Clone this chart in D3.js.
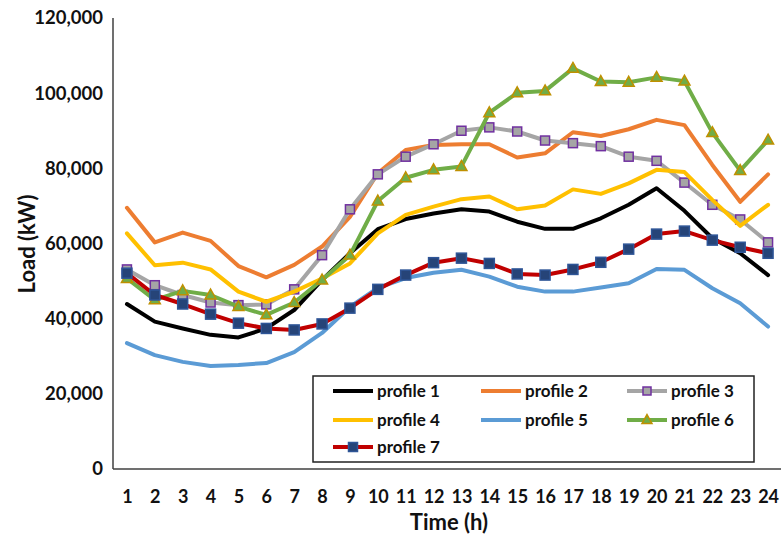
<!DOCTYPE html>
<html>
<head>
<meta charset="utf-8">
<script src="https://cdn.jsdelivr.net/npm/d3@7"></script>
<style>
  html, body { margin: 0; padding: 0; background: #fff; }
  svg { display: block; }
  text { font-family: Lato, "Open Sans", "Liberation Sans", sans-serif; font-weight: bold; fill: #111; }
</style>
</head>
<body>
<svg id="chart" width="781" height="537"></svg>
<script>
// Hourly load for seven profiles (kW)
const hours = d3.range(1, 25);
const profile1 = [43900, 39200, 37400, 35700, 35000, 37400, 42300, 50300, 57400, 63800, 66500, 68000,
                  69100, 68500, 65800, 63900, 63900, 66700, 70300, 74700, 68700, 61400, 57400, 51600];
const profile2 = [69500, 60300, 62900, 60700, 54000, 51000, 54300, 59200, 67100, 78700, 84900, 86200,
                  86400, 86400, 82900, 84000, 89600, 88600, 90400, 92900, 91500, 80900, 71100, 78400];
const profile3 = [53100, 48900, 46300, 44300, 43600, 43800, 47800, 56900, 69100, 78400, 83100, 86400,
                  90000, 90900, 89800, 87400, 86700, 85900, 83100, 82000, 76200, 70300, 66400, 60300];
const profile4 = [62700, 54200, 54900, 53100, 47200, 44500, 47200, 50700, 54700, 62700, 67600, 69800,
                  71800, 72500, 69100, 70100, 74400, 73200, 76000, 79600, 79000, 71600, 64700, 70300];
const profile5 = [33500, 30300, 28500, 27400, 27700, 28200, 31100, 36200, 43100, 48200, 50800, 52200,
                  53000, 51200, 48500, 47200, 47200, 48300, 49400, 53200, 53000, 48100, 44100, 37900];
const profile6 = [50700, 45000, 47400, 46300, 43200, 41000, 44300, 50300, 56900, 71300, 77500, 79600,
                  80500, 94800, 100100, 100600, 106600, 103100, 102900, 104200, 103200, 89500, 79400, 87500];
const profile7 = [52100, 46300, 43900, 41200, 38800, 37400, 37000, 38600, 42800, 47800, 51600, 54900,
                  56100, 54700, 51900, 51600, 53100, 55000, 58500, 62500, 63300, 60900, 59000, 57400];
const yTicks = [0, 20000, 40000, 60000, 80000, 100000, 120000];

const series = [
  { name: "profile 1", values: profile1, color: "#000000", marker: null },
  { name: "profile 2", values: profile2, color: "#ED7D31", marker: null },
  { name: "profile 3", values: profile3, color: "#A5A5A5", marker: "square",
    mFill: "#A5A5A5", mStroke: "#7030A0", mSize: 9 },
  { name: "profile 4", values: profile4, color: "#FFC000", marker: null },
  { name: "profile 5", values: profile5, color: "#5B9BD5", marker: null },
  { name: "profile 6", values: profile6, color: "#70AD47", marker: "triangle",
    mFill: "#70AD47", mStroke: "#BF9000", mSize: 11 },
  { name: "profile 7", values: profile7, color: "#C00000", marker: "square",
    mFill: "#264478", mStroke: "#2E5597", mSize: 10 }
];

const svg = d3.select("#chart");
const plot = { left: 113, right: 782, top: 18, bottom: 469 };

const x = d3.scalePoint().domain(hours).range([plot.left, plot.right]).padding(0.5);
const y = d3.scaleLinear().domain([0, 120000]).range([plot.bottom, plot.top]);

// Y tick labels
const yAxis = d3.axisLeft(y).tickValues(yTicks).tickSize(0).tickPadding(10)
  .tickFormat(d3.format(","));
const gy = svg.append("g").attr("transform", `translate(${plot.left},0)`).call(yAxis);
gy.select(".domain").remove();
gy.selectAll("text").style("font-size", "18.5px").attr("fill", "#111");

// X tick labels
const xAxis = d3.axisBottom(x).tickSize(0).tickPadding(21);
const gx = svg.append("g").attr("transform", `translate(0,${plot.bottom})`).call(xAxis);
gx.select(".domain").remove();
gx.selectAll("text").style("font-size", "18px").attr("fill", "#111");

// Axis lines
svg.append("line").attr("x1", plot.left).attr("x2", plot.left)
  .attr("y1", plot.top).attr("y2", plot.bottom)
  .attr("stroke", "#404040").attr("stroke-width", 1.5);
svg.append("line").attr("x1", plot.left).attr("x2", 781)
  .attr("y1", plot.bottom).attr("y2", plot.bottom)
  .attr("stroke", "#404040").attr("stroke-width", 1.5);

// Axis titles
svg.append("text").attr("x", 449).attr("y", 530).attr("text-anchor", "middle")
  .style("font-size", "22px").text("Time (h)");
svg.append("text").attr("transform", "translate(35,244) rotate(-90)")
  .attr("text-anchor", "middle").style("font-size", "22px").text("Load (kW)");

// Marker drawing
function drawMarker(g, s, cx, cy, size) {
  if (s.marker === "square") {
    g.append("rect").attr("x", cx - size / 2).attr("y", cy - size / 2)
      .attr("width", size).attr("height", size)
      .attr("fill", s.mFill).attr("stroke", s.mStroke).attr("stroke-width", 1.5);
  } else if (s.marker === "triangle") {
    const h = size * 0.9;
    g.append("path")
      .attr("d", `M${cx},${cy - h * 0.6}L${cx + size / 2},${cy + h * 0.4}L${cx - size / 2},${cy + h * 0.4}Z`)
      .attr("fill", s.mFill).attr("stroke", s.mStroke).attr("stroke-width", 1.5);
  }
}

// Lines and markers
const line = d3.line().x((d, i) => x(hours[i])).y(d => y(d));
series.forEach(s => {
  const g = svg.append("g");
  g.append("path").datum(s.values).attr("d", line)
    .attr("fill", "none").attr("stroke", s.color).attr("stroke-width", 4)
    .attr("stroke-linejoin", "round").attr("stroke-linecap", "round");
  if (s.marker) {
    s.values.forEach((v, i) => drawMarker(g, s, x(hours[i]), y(v), s.mSize));
  }
});

// Legend
const legend = svg.append("g");
legend.append("rect").attr("x", 313).attr("y", 376).attr("width", 441).attr("height", 86)
  .attr("fill", "#fff").attr("stroke", "#222").attr("stroke-width", 1.5);
const cols = [333, 481, 627];
const rows = [391, 420, 447];
series.forEach((s, i) => {
  const lx = cols[i % 3], ly = rows[Math.floor(i / 3)];
  legend.append("line").attr("x1", lx).attr("x2", lx + 40).attr("y1", ly).attr("y2", ly)
    .attr("stroke", s.color).attr("stroke-width", 4);
  if (s.marker) drawMarker(legend, s, lx + 20, ly, s.mSize - 1);
  legend.append("text").attr("x", lx + 44).attr("y", ly + 6)
    .style("font-size", "17px").text(s.name);
});
</script>
</body>
</html>
